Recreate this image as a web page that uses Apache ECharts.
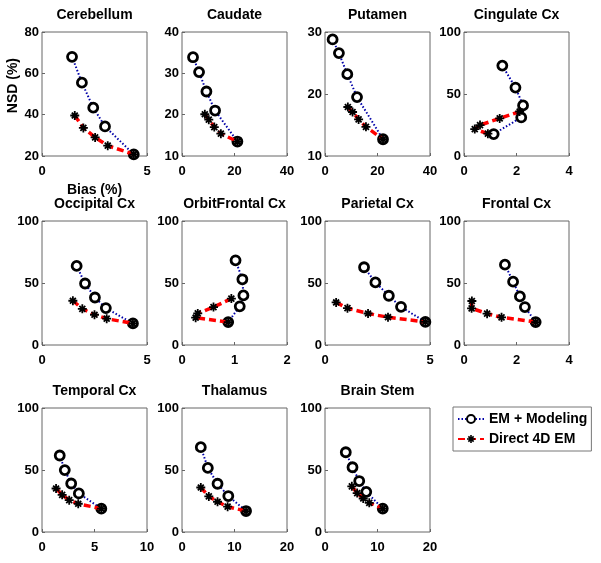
<!DOCTYPE html>
<html><head><meta charset="utf-8">
<script src="https://cdn.jsdelivr.net/npm/echarts@6/dist/echarts.min.js"></script>
<style>html,body{margin:0;padding:0;background:#fff}#c{width:601px;height:563px}</style>
</head><body><div id="c"></div>
<script>
const regions = ['Cerebellum','Caudate','Putamen','Cingulate Cx','Occipital Cx','OrbitFrontal Cx','Parietal Cx','Frontal Cx','Temporal Cx','Thalamus','Brain Stem'];
const xMaxes = [5,40,40,4,5,2,5,4,10,20,20];
const xIntervals = [5,20,20,2,5,1,5,2,5,10,10];
const yMins = [20,10,10,0,0,0,0,0,0,0,0];
const yMaxes = [80,40,30,100,100,100,100,100,100,100,100];
const yIntervals = [20,10,10,50,50,50,50,50,50,50,50];

const cerebellumEM = [[1.43,68],[1.90,55.5],[2.44,43.4],[3.0,34.3],[4.37,20.8]];
const cerebellumDirect = [[1.56,39.6],[1.97,33.6],[2.53,29],[3.13,25],[4.37,20.8]];
const caudateEM = [[4.2,33.9],[6.5,30.3],[9.3,25.6],[12.6,21],[21.1,13.5]];
const caudateDirect = [[8.7,20.1],[10.2,18.8],[12.3,17.0],[14.8,15.4],[21.1,13.5]];
const putamenEM = [[2.9,28.8],[5.3,26.6],[8.5,23.2],[12.2,19.5],[22.1,12.7]];
const putamenDirect = [[8.7,17.9],[10.5,17.1],[12.8,15.9],[15.6,14.7],[22.1,12.7]];
const cingulateEM = [[1.46,72.9],[1.96,55.2],[2.25,40.8],[2.18,31.1],[1.13,17.7]];
const cingulateDirect = [[2.12,35.9],[1.36,30.3],[0.61,24.9],[0.41,21.7],[0.91,18.0]];
const occipitalEM = [[1.65,63.8],[2.05,49.6],[2.52,38.3],[3.04,29.8],[4.33,17.4]];
const occipitalDirect = [[1.47,35.7],[1.92,29.2],[2.50,24.4],[3.08,21.2],[4.33,17.4]];
const orbitFrontalEM = [[1.02,68.3],[1.15,53],[1.17,40],[1.10,31.2],[0.88,18.5]];
const orbitFrontalDirect = [[0.94,37.4],[0.60,30.6],[0.30,25.5],[0.26,22],[0.88,18.5]];
const parietalEM = [[1.86,62.7],[2.40,50.5],[3.04,39.7],[3.62,30.8],[4.78,18.6]];
const parietalDirect = [[0.53,34.3],[1.07,29.7],[2.05,25.4],[3.0,22.4],[4.78,18.6]];
const frontalEM = [[1.56,64.8],[1.87,51.1],[2.13,39.2],[2.32,30.6],[2.73,18.5]];
const frontalDirect = [[0.30,35.5],[0.29,29.6],[0.88,25.3],[1.43,22.3],[2.73,18.5]];
const temporalEM = [[1.69,61.7],[2.17,49.9],[2.78,39.1],[3.51,31.1],[5.65,18.8]];
const temporalDirect = [[1.34,35.1],[1.92,30.0],[2.59,25.7],[3.45,22.8],[5.65,18.8]];
const thalamusEM = [[3.58,68.4],[4.92,51.7],[6.77,38.9],[8.82,29],[12.2,16.9]];
const thalamusDirect = [[3.58,35.9],[5.11,28.7],[6.77,24.4],[8.69,20.4],[12.2,16.9]];
const brainStemEM = [[3.96,64.3],[5.24,52.2],[6.52,41.1],[7.86,32.4],[11.0,18.9]];
const brainStemDirect = [[5.11,36.8],[6.13,31.4],[7.28,27],[8.43,23.5],[11.0,18.9]];

const emSets = [cerebellumEM,caudateEM,putamenEM,cingulateEM,occipitalEM,orbitFrontalEM,parietalEM,frontalEM,temporalEM,thalamusEM,brainStemEM];
const directSets = [cerebellumDirect,caudateDirect,putamenDirect,cingulateDirect,occipitalDirect,orbitFrontalDirect,parietalDirect,frontalDirect,temporalDirect,thalamusDirect,brainStemDirect];

const FONT = 'Liberation Sans, Arial, sans-serif';
const colLeft = [42,182,325,464];
const rowTop = [32,221,408];
const W = 105, H = 124;
const STAR = 'path://M0 4 L10 4 L10 6 L0 6 Z M4 0 L6 0 L6 10 L4 10 Z M1 2.4 L2.4 1 L9 7.6 L7.6 9 Z M7.6 1 L9 2.4 L2.4 9 L1 7.6 Z';

const grids = [], xAxes = [], yAxes = [], titles = [], series = [];
regions.forEach((name, i) => {
  const r = Math.floor(i / 4), c = i % 4;
  const left = colLeft[c], top = rowTop[r];
  grids.push({left: left, top: top, width: W, height: H, show: true, borderColor: '#666', borderWidth: 1, backgroundColor: '#fff'});
  titles.push({text: name, left: left + W / 2, top: top - 24, textAlign: 'center', padding: 0,
    textStyle: {fontFamily: FONT, fontWeight: 'bold', fontSize: 14, color: '#000'}});
  xAxes.push({type: 'value', gridIndex: i, min: 0, max: xMaxes[i], interval: xIntervals[i],
    splitLine: {show: false}, axisLine: {show: false},
    axisTick: {show: true, inside: true, length: 3, lineStyle: {color: '#666'}},
    axisLabel: {fontFamily: FONT, fontWeight: 'bold', fontSize: 13, color: '#000', margin: 9},
    name: i === 0 ? 'Bias (%)' : '', nameLocation: 'middle', nameGap: 27,
    nameTextStyle: {fontFamily: FONT, fontWeight: 'bold', fontSize: 14, color: '#000'}});
  yAxes.push({type: 'value', gridIndex: i, min: yMins[i], max: yMaxes[i], interval: yIntervals[i],
    splitLine: {show: false}, axisLine: {show: false},
    axisTick: {show: true, inside: true, length: 3, lineStyle: {color: '#666'}},
    axisLabel: {fontFamily: FONT, fontWeight: 'bold', fontSize: 13, color: '#000', margin: 3}});
  series.push({name: 'EM + Modeling', type: 'line', xAxisIndex: i, yAxisIndex: i, data: emSets[i],
    symbol: 'circle', symbolSize: 9, z: 2,
    itemStyle: {color: '#fff', borderColor: '#000', borderWidth: 2.8},
    lineStyle: {color: '#0000a8', width: 2, type: [1.5, 2]}});
  series.push({name: 'Direct 4D EM', type: 'line', xAxisIndex: i, yAxisIndex: i, data: directSets[i],
    symbol: STAR, symbolSize: 9, z: 3,
    itemStyle: {color: '#000'},
    lineStyle: {color: '#ff0000', width: 3.5, type: [7, 4]}});
});

const chart = echarts.init(document.getElementById('c'), null, {renderer: 'canvas'});
chart.setOption({
  animation: false,
  backgroundColor: '#fff',
  title: titles,
  grid: grids,
  xAxis: xAxes,
  yAxis: yAxes,
  legend: {data: ['EM + Modeling', 'Direct 4D EM'], orient: 'vertical', left: 453, top: 407,
    padding: [5, 4, 5, 4], itemGap: 6, itemWidth: 26, itemHeight: 10,
    borderColor: '#777', borderWidth: 1, backgroundColor: '#fff',
    textStyle: {fontFamily: FONT, fontWeight: 'bold', fontSize: 14, color: '#000'}},
  graphic: [{type: 'text', left: 6, top: 58, rotation: Math.PI / 2,
    style: {text: 'NSD (%)', font: 'bold 14px ' + FONT, fill: '#000'}}],
  series: series
});
</script></body></html>
